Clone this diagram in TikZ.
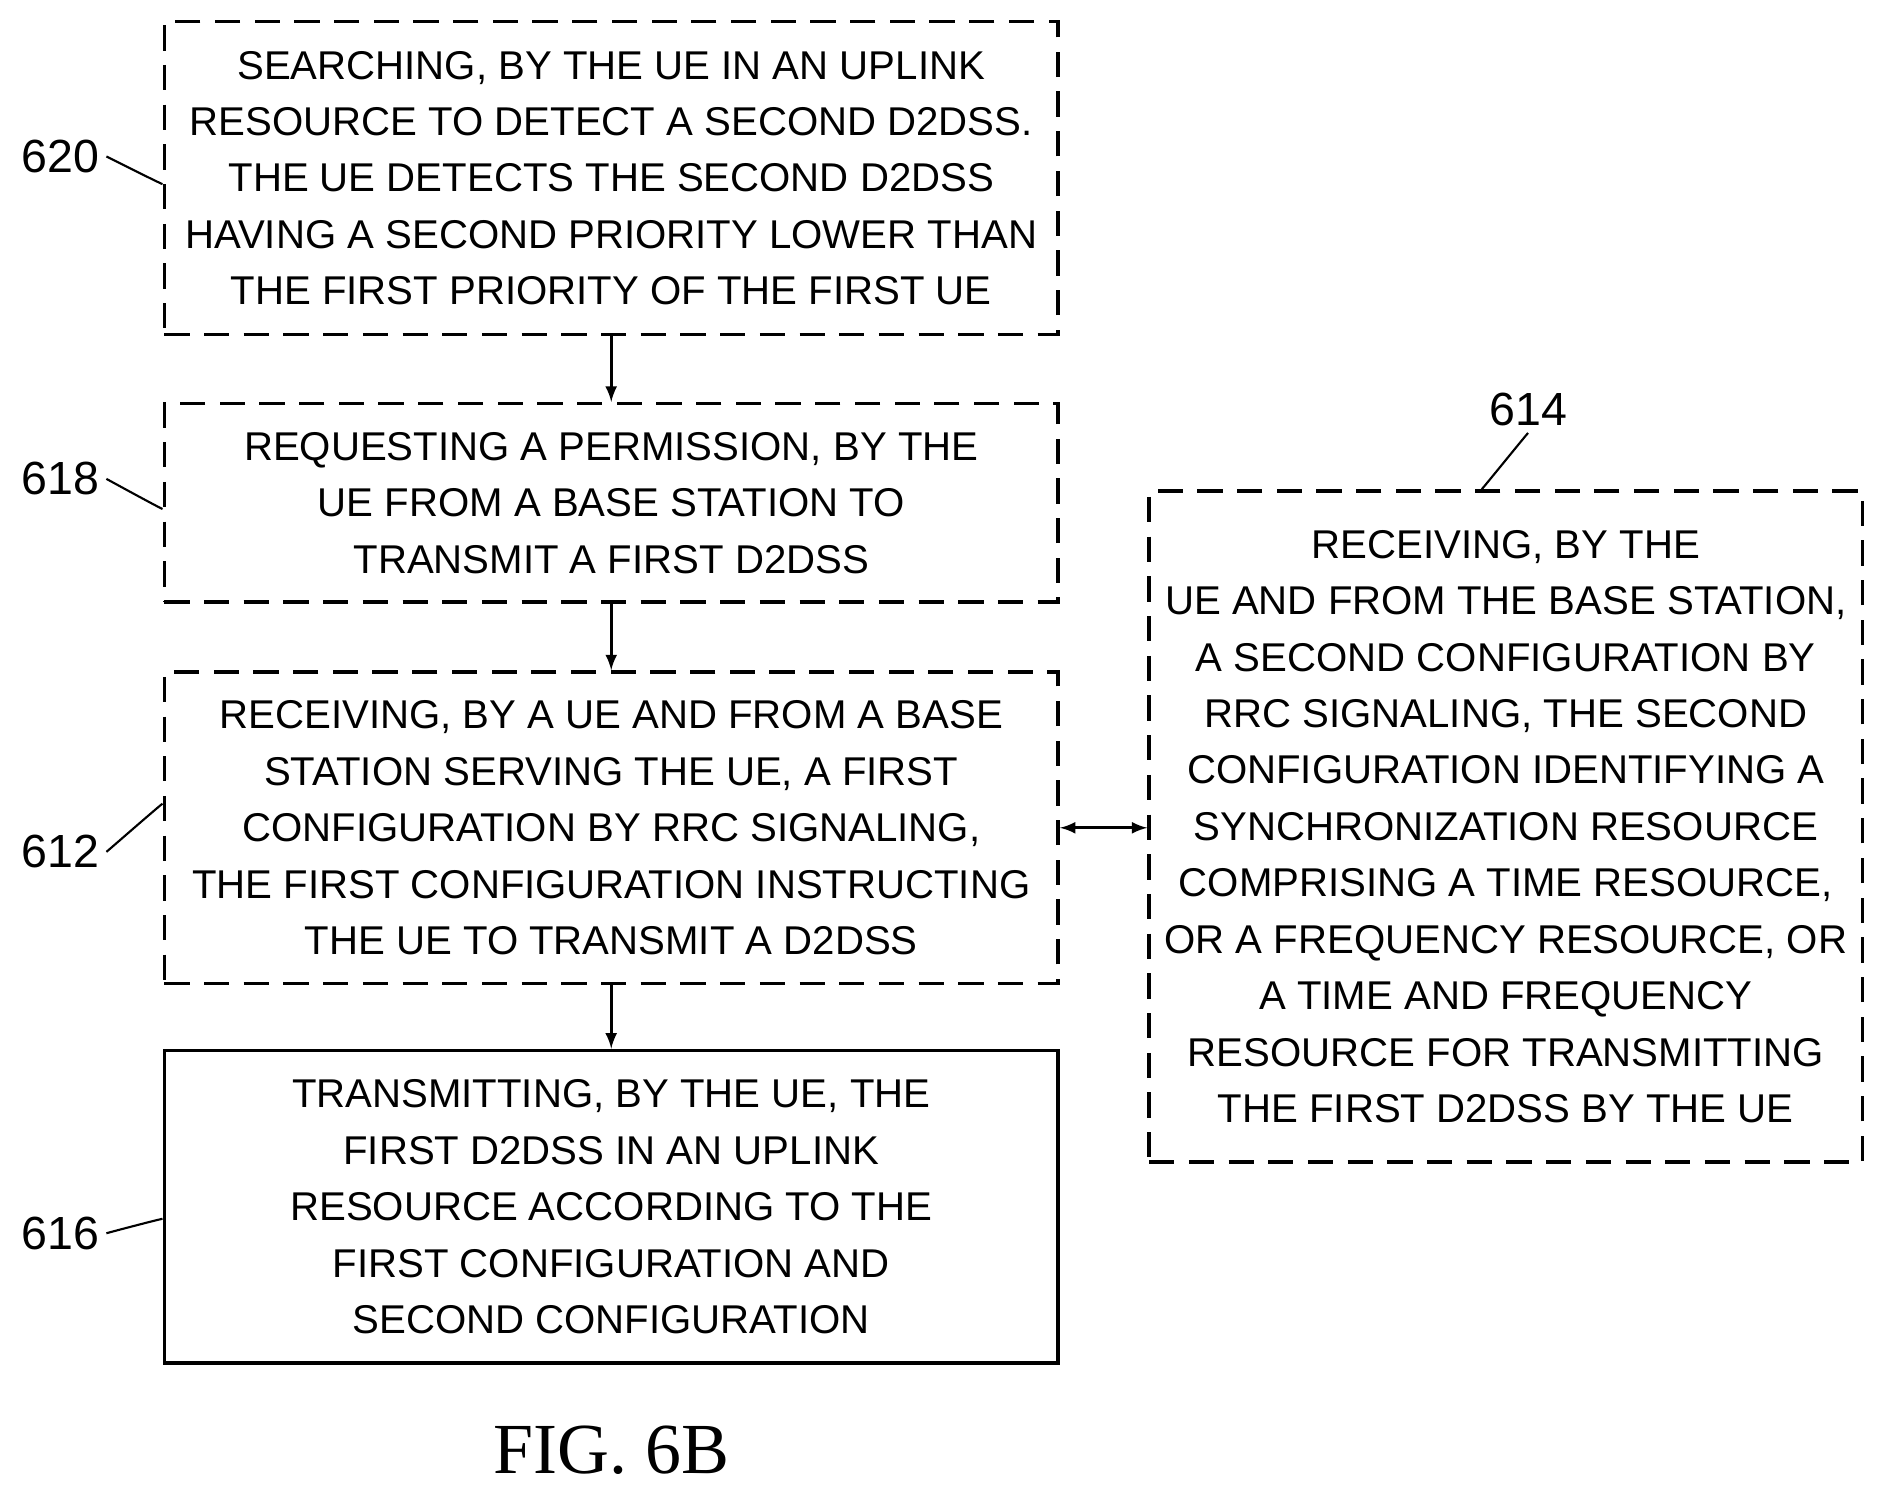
\documentclass[tikz,border=0pt]{standalone}
\usepackage{fontspec}
\setmainfont{Liberation Sans}
\newfontfamily\figfont{Liberation Serif}
\tikzstyle{stepbox} = [rectangle, draw=black, line width=1.7pt, minimum width=14.86cm, align=center, font=\fontsize{19}{26.7}\selectfont, inner sep=0pt]
\tikzstyle{dbox} = [stepbox, dash pattern=on 0.42cm off 0.24cm]
\tikzstyle{num} = [font=\fontsize{22}{26}\selectfont]
\tikzstyle{lead} = [line width=1pt]
\tikzstyle{arrow} = [line width=1.5pt,-latex]
\begin{document}
\begin{tikzpicture}[x=0.02cm,y=-0.02cm]
\useasboundingbox (0,0) rectangle (1560,1237.5);

%% Left column
\node (b620) [dbox, minimum height=5.2cm] at (508,148) {SEARCHING, BY THE UE IN AN UPLINK\\RESOURCE TO DETECT A SECOND D2DSS.\\THE UE DETECTS THE SECOND D2DSS\\HAVING A SECOND PRIORITY LOWER THAN\\THE FIRST PRIORITY OF THE FIRST UE};
\node (b618) [dbox, minimum height=3.3cm] at (508,418) {REQUESTING A PERMISSION, BY THE\\UE FROM A BASE STATION TO\\TRANSMIT A FIRST D2DSS};
\node (b612) [dbox, minimum height=5.18cm] at (508,688) {RECEIVING, BY A UE AND FROM A BASE\\STATION SERVING THE UE, A FIRST\\CONFIGURATION BY RRC SIGNALING,\\THE FIRST CONFIGURATION INSTRUCTING\\THE UE TO TRANSMIT A D2DSS};
\node (b616) [stepbox, minimum height=5.2cm] at (508,1003) {TRANSMITTING, BY THE UE, THE\\FIRST D2DSS IN AN UPLINK\\RESOURCE ACCORDING TO THE\\FIRST CONFIGURATION AND\\SECOND CONFIGURATION};

%% Right box
\node (b614) [dbox, minimum width=11.86cm, minimum height=11.16cm] at (1251.5,687) {RECEIVING, BY THE\\UE AND FROM THE BASE STATION,\\A SECOND CONFIGURATION BY\\RRC SIGNALING, THE SECOND\\CONFIGURATION IDENTIFYING A\\SYNCHRONIZATION RESOURCE\\COMPRISING A TIME RESOURCE,\\OR A FREQUENCY RESOURCE, OR\\A TIME AND FREQUENCY\\RESOURCE FOR TRANSMITTING\\THE FIRST D2DSS BY THE UE};

%% Labels
\node (l620) [num] at (50,130) {620};
\node (l618) [num] at (50,398) {618};
\node (l612) [num] at (50,708) {612};
\node (l616) [num] at (50,1025) {616};
\node (l614) [num] at (1270,340) {614};
\node (fig) [font=\figfont\fontsize{34}{40}\selectfont] at (508,1205) {FIG. 6B};

\draw [lead] (l620.east) .. controls +(0.5,0.3) and +(-0.4,0.3) .. ([yshift=-0.1cm]b620.west);
\draw [lead] (l618.east) .. controls +(0.5,0.3) and +(-0.4,0.3) .. ([yshift=-0.1cm]b618.west);
\draw [lead] (l612.east) .. controls +(0.5,-0.3) and +(-0.4,-0.3) .. ([yshift=0.4cm]b612.west);
\draw [lead] (l616.east) .. controls +(0.5,-0.3) and +(-0.4,-0.3) .. ([yshift=-0.2cm,xshift=0cm]b616.west |- 0,1003);
\draw [lead] (l614.south) .. controls +(0,-0.5) and +(0,0.5) .. ([xshift=-0.4cm]b614.north);

%% Arrows
\draw [arrow] (b620) -- (b618);
\draw [arrow] (b618) -- (b612);
\draw [arrow] (b612) -- (b616);
\draw [line width=1.5pt,latex-latex] (b612.east) -- (b614.west |- b612.east);
\end{tikzpicture}
\end{document}
